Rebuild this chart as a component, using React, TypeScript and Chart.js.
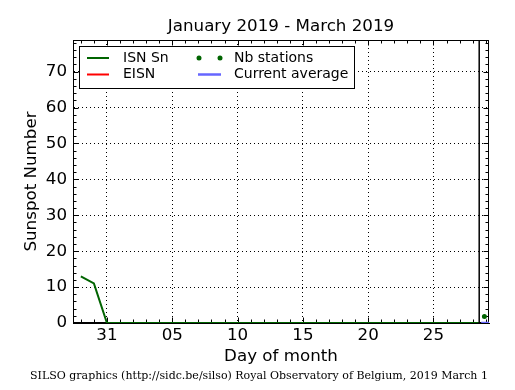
import React, { useEffect, useRef } from "react";
import { Chart, registerables } from "chart.js";

Chart.register(...registerables);

const TITLE = "January 2019 - March 2019";
const FOOTER = "SILSO graphics (http://sidc.be/silso) Royal Observatory of Belgium, 2019 March 1";
const X_TITLE = "Day of month";
const Y_TITLE = "Sunspot Number";

// x values are days counted from 1 January 2019 (Jan 31 = 31, Feb 1 = 32, ... Mar 1 = 60)
const ISN_DAYS = [
  29, 30, 31, 32, 33, 34, 35, 36, 37, 38, 39, 40, 41, 42, 43, 44, 45, 46, 47, 48, 49,
  50, 51, 52, 53, 54, 55, 56, 57, 58, 59, 59.5,
];
const ISN_VALUES = [
  13, 11, 0, 0, 0, 0, 0, 0, 0, 0, 0, 0, 0, 0, 0, 0, 0, 0, 0, 0, 0,
  0, 0, 0, 0, 0, 0, 0, 0, 0, 0, 0,
];
const EISN_DAYS: number[] = [];
const EISN_VALUES: number[] = [];
const NB_STATIONS_DAYS = [59.9];
const NB_STATIONS_VALUES = [1.8];
const CURRENT_AVG_DAYS = [59.65, 60.3];
const CURRENT_AVG_VALUES = [0, 0];
const CURRENT_DATE = 59.5;

const X_MIN = 28.4;
const X_MAX = 60.25;
const Y_MIN = 0;
const Y_MAX = 78.8;
const X_TICKS = [31, 36, 41, 46, 51, 56];
const X_TICK_LABELS = ["31", "05", "10", "15", "20", "25"];
const Y_TICKS = [0, 10, 20, 30, 40, 50, 60, 70];
const X_MINOR_STEP = 1;
const Y_MINOR_STEP = 2;

const GREEN = "#006400";
const RED = "#ff0000";
const BLUE = "#6666ff";
const SANS = "'DejaVu Sans', sans-serif";
const SERIF = "'DejaVu Serif', serif";

const pts = (xs: number[], ys: number[]) => xs.map((x, i) => ({ x, y: ys[i] }));

const decorPlugin = {
  id: "decor",
  beforeDatasetsDraw(chart: any) {
    const { ctx, chartArea: a, scales } = chart;
    const xs = scales.x;
    const ys = scales.y;
    ctx.save();
    ctx.strokeStyle = "#000";
    ctx.lineWidth = 1;
    const line = (x1: number, y1: number, x2: number, y2: number) => {
      ctx.beginPath();
      ctx.moveTo(x1, y1);
      ctx.lineTo(x2, y2);
      ctx.stroke();
    };
    const L = Math.round(a.left) + 0.5;
    const R = Math.round(a.right) - 0.5;
    const T = Math.round(a.top) + 0.5;
    const B = Math.round(a.bottom) - 0.5;
    ctx.strokeRect(L, T, R - L, B - T);
    const MAJ = 5;
    const MIN = 3;
    for (let d = Math.ceil(X_MIN); d <= X_MAX; d += X_MINOR_STEP) {
      const px = Math.round(xs.getPixelForValue(d)) + 0.5;
      const len = X_TICKS.includes(d) ? MAJ : MIN;
      line(px, B, px, B - len);
      line(px, T, px, T + len);
    }
    for (let v = Y_MIN; v <= Y_MAX; v += Y_MINOR_STEP) {
      const py = Math.round(ys.getPixelForValue(v)) + 0.5;
      const len = Y_TICKS.includes(v) ? MAJ : MIN;
      line(L, py, L + len, py);
      line(R, py, R - len, py);
    }
    ctx.restore();
  },
  afterDatasetsDraw(chart: any) {
    const { ctx, chartArea: a } = chart;
    const ds = chart.data.datasets;
    const L = Math.round(a.left) + 6;
    const T = Math.round(a.top) + 6;
    const W = 275;
    const H = 42;
    ctx.save();
    ctx.fillStyle = "#fff";
    ctx.fillRect(L, T, W, H);
    ctx.strokeStyle = "#000";
    ctx.lineWidth = 1;
    ctx.strokeRect(L + 0.5, T + 0.5, W, H);
    ctx.font = `14px ${SANS}`;
    ctx.textBaseline = "middle";
    ctx.textAlign = "left";
    const rows = [T + 12, T + 28.5];
    const cols = [
      { x1: L + 8, x2: L + 30, tx: L + 44 },
      { x1: L + 119, x2: L + 142, tx: L + 155 },
    ];
    const entries = [
      { i: 0, c: 0, r: 0 },
      { i: 1, c: 0, r: 1 },
      { i: 2, c: 1, r: 0 },
      { i: 3, c: 1, r: 1 },
    ];
    for (const e of entries) {
      const d = ds[e.i];
      const col = cols[e.c];
      const y = rows[e.r];
      if (d.showLine === false) {
        ctx.fillStyle = d.pointBackgroundColor;
        for (const x of [col.x1 + 1, col.x2 - 1]) {
          ctx.beginPath();
          ctx.arc(x, y, 2.5, 0, Math.PI * 2);
          ctx.fill();
        }
      } else {
        ctx.strokeStyle = d.borderColor;
        ctx.lineWidth = d.borderWidth;
        ctx.beginPath();
        ctx.moveTo(col.x1, y);
        ctx.lineTo(col.x2, y);
        ctx.stroke();
      }
      ctx.fillStyle = "#000";
      ctx.fillText(d.label, col.tx, y);
    }
    ctx.restore();
  },
};

const hiddenAxis = {
  type: "linear",
  display: true,
  ticks: { display: false },
  grid: { display: false, drawTicks: false },
  border: { display: false },
};

export default function App() {
  const ref = useRef<HTMLCanvasElement | null>(null);
  useEffect(() => {
    if (!ref.current) return;
    const chart = new Chart(ref.current, {
      type: "line",
      data: {
        datasets: [
          {
            label: "ISN Sn",
            data: pts(ISN_DAYS, ISN_VALUES),
            borderColor: GREEN,
            borderWidth: 2,
            pointRadius: 0,
            tension: 0,
            order: 2,
          },
          {
            label: "EISN",
            data: pts(EISN_DAYS, EISN_VALUES),
            borderColor: RED,
            borderWidth: 2,
            pointRadius: 0,
            order: 3,
          },
          {
            label: "Nb stations",
            data: pts(NB_STATIONS_DAYS, NB_STATIONS_VALUES),
            showLine: false,
            borderColor: GREEN,
            pointBackgroundColor: GREEN,
            pointBorderColor: GREEN,
            pointRadius: 2.5,
            pointBorderWidth: 0,
            order: 0,
          },
          {
            label: "Current average",
            data: pts(CURRENT_AVG_DAYS, CURRENT_AVG_VALUES),
            borderColor: BLUE,
            borderWidth: 2.5,
            pointRadius: 0,
            order: 4,
          },
          {
            label: "current date",
            data: [
              { x: CURRENT_DATE, y: Y_MIN },
              { x: CURRENT_DATE, y: Y_MAX },
            ],
            borderColor: "#000",
            borderWidth: 1.5,
            pointRadius: 0,
            order: 1,
          },
        ] as any,
      },
      options: {
        animation: false,
        responsive: false,
        devicePixelRatio: 1,
        layout: { padding: { left: 3, right: 0, top: 0, bottom: 0 } },
        plugins: {
          legend: { display: false },
          tooltip: { enabled: false },
          title: { display: false },
          subtitle: {
            display: true,
            position: "bottom",
            text: FOOTER,
            color: "#000",
            font: { family: SERIF, size: 11, weight: "normal" },
            padding: { top: 0, bottom: 7.4 },
          },
        },
        scales: {
          x: {
            type: "linear",
            min: X_MIN,
            max: X_MAX,
            afterBuildTicks: (s: any) => {
              s.ticks = X_TICKS.map((v) => ({ value: v }));
            },
            afterFit: (s: any) => {
              s.height = 46.4;
            },
            ticks: {
              autoSkip: false,
              maxRotation: 0,
              padding: 3,
              color: "#000",
              font: { family: SANS, size: 16.7 },
              callback: (v: any) => {
                const i = X_TICKS.indexOf(Number(v));
                return i >= 0 ? X_TICK_LABELS[i] : "";
              },
            },
            grid: { color: "#000", lineWidth: 1, drawTicks: false },
            border: { display: true, color: "#000", width: 1, dash: [1, 3] },
            title: {
              display: true,
              text: X_TITLE,
              color: "#000",
              font: { family: SANS, size: 16.7 },
              padding: { top: 0, bottom: 2.4 },
            },
          },
          xTop: {
            ...hiddenAxis,
            position: "top",
            min: X_MIN,
            max: X_MAX,
            afterFit: (s: any) => {
              s.height = 40;
            },
            title: {
              display: true,
              text: TITLE,
              color: "#000",
              font: { family: SANS, size: 16.7 },
              padding: { top: 17, bottom: 0 },
            },
          },
          y: {
            type: "linear",
            min: Y_MIN,
            max: Y_MAX,
            afterBuildTicks: (s: any) => {
              s.ticks = Y_TICKS.map((v) => ({ value: v }));
            },
            afterFit: (s: any) => {
              s.width = 70;
            },
            ticks: {
              padding: 6,
              color: "#000",
              font: { family: SANS, size: 16.7 },
            },
            grid: { color: "#000", lineWidth: 1, drawTicks: false },
            border: { display: true, color: "#000", width: 1, dash: [1, 3] },
            title: {
              display: true,
              text: Y_TITLE,
              color: "#000",
              font: { family: SANS, size: 16.7 },
              padding: { top: 19, bottom: 0 },
            },
          },
          yRight: {
            ...hiddenAxis,
            position: "right",
            min: Y_MIN,
            max: Y_MAX,
            afterFit: (s: any) => {
              s.width = 26;
            },
          },
        },
      } as any,
      plugins: [decorPlugin],
    });
    return () => chart.destroy();
  }, []);
  return (
    <div style={{ position: "fixed", left: 0, top: 0, width: 515, height: 390, background: "#fff" }}>
      <canvas ref={ref} width={515} height={390} style={{ display: "block" }} />
    </div>
  );
}
